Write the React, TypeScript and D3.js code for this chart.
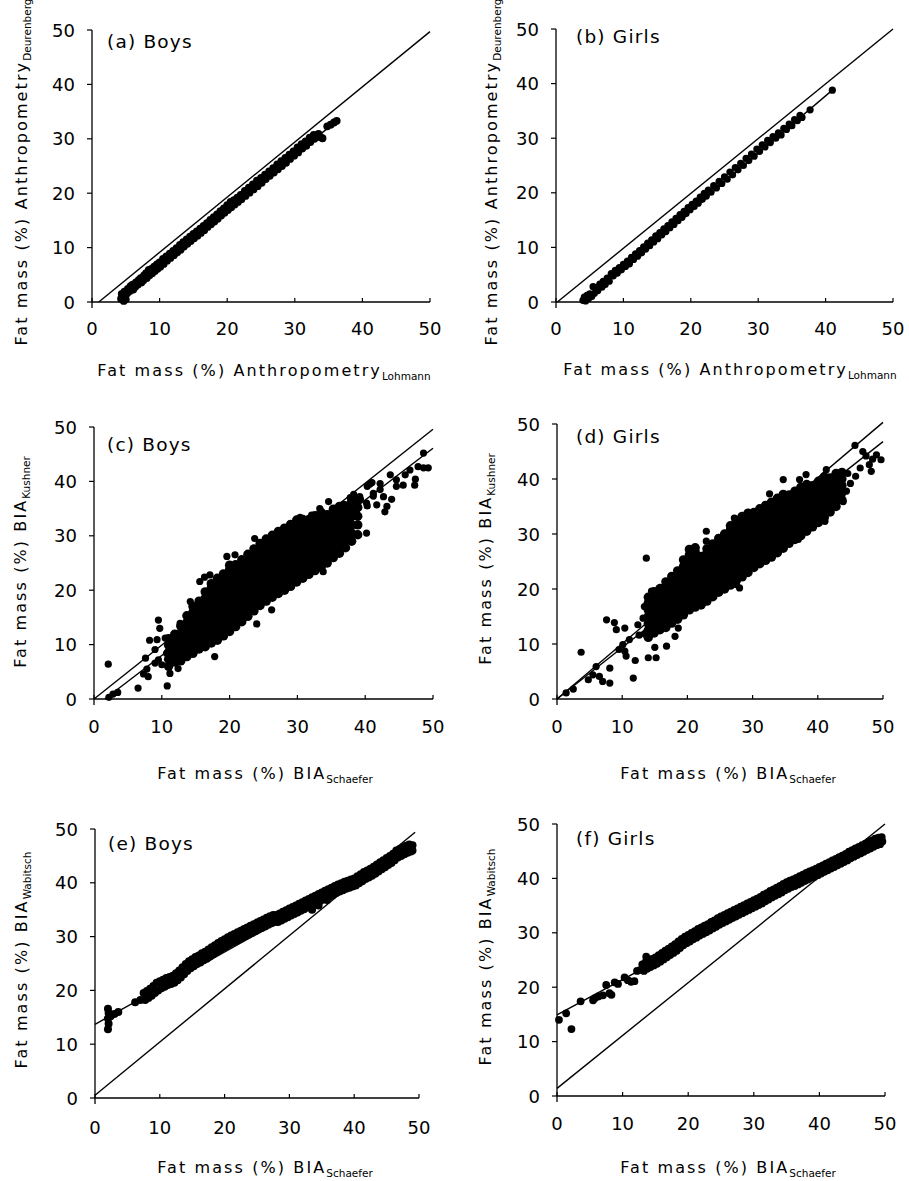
import React from "react";
import * as d3 from "d3";

type Pt = [number, number];
type Col = [number, number[]];

const TICKS = [0, 10, 20, 30, 40, 50];
const TICK_LABELS = ["0", "10", "20", "30", "40", "50"];
const PANEL_LABELS = ["(a) Boys", "(b) Girls", "(c) Boys", "(d) Girls", "(e) Boys", "(f) Girls"];
const X_TITLES: [string, string][] = [
  ["Fat mass (%) Anthropometry", "Lohmann"],
  ["Fat mass (%) Anthropometry", "Lohmann"],
  ["Fat mass (%) BIA", "Schaefer"],
  ["Fat mass (%) BIA", "Schaefer"],
  ["Fat mass (%) BIA", "Schaefer"],
  ["Fat mass (%) BIA", "Schaefer"],
];
const Y_TITLES: [string, string][] = [
  ["Fat mass (%) Anthropometry", "Deurenberg"],
  ["Fat mass (%) Anthropometry", "Deurenberg"],
  ["Fat mass (%) BIA", "Kushner"],
  ["Fat mass (%) BIA", "Kushner"],
  ["Fat mass (%) BIA", "Wabitsch"],
  ["Fat mass (%) BIA", "Wabitsch"],
];

// (a) Boys: Lohmann vs Deurenberg
const boysAnthro: Pt[] = [
  [4.3,0.6],[4.4,1.5],[4.6,0.9],[4.7,0.2],[4.8,1.9],[5.0,0.5],[5.2,1.6],[5.3,2.4],[5.6,2.0],[5.7,2.9],[6.0,3.2],[6.1,2.3],[6.4,2.8],[6.5,3.6],[6.8,3.2],[6.9,4.0],[7.2,4.4],[7.3,3.6],[7.6,4.0],[7.7,4.9],[8.0,5.3],[8.1,4.4],[8.4,5.9],[8.5,4.9],[8.8,6.1],[8.9,5.3],[9.2,6.5],[9.3,5.7],[9.6,6.9],[9.7,6.1],[10.0,7.3],[10.1,6.5],[10.5,7.9],[10.6,7.0],[11.0,8.4],[11.1,7.6],[11.5,8.9],[11.6,8.1],[12.0,9.4],[12.1,8.6],[12.5,9.9],[12.6,9.1],[13.0,10.5],[13.1,9.6],[13.5,11.0],[13.6,10.2],[14.0,11.5],[14.1,10.7],[14.5,12.0],[14.6,11.2],[15.0,12.5],[15.1,11.7],[15.5,13.0],[15.6,12.2],[16.0,13.5],[16.1,12.7],[16.5,14.0],[16.6,13.2],[17.0,14.5],[17.1,13.8],[17.5,15.1],[17.6,14.3],[18.0,15.6],[18.1,14.8],[18.5,16.1],[18.6,15.3],[19.0,16.7],[19.1,15.9],[19.5,17.2],[19.6,16.4],[20.0,17.8],[20.1,16.9],[20.5,18.4],[20.6,17.4],[21.0,18.7],[21.1,17.9],[21.5,19.2],[21.6,18.4],[22.0,19.7],[22.1,18.9],[22.6,20.4],[22.7,19.5],[23.2,21.0],[23.3,20.1],[23.8,21.6],[23.9,20.7],[24.4,22.3],[24.5,21.3],[25.0,22.8],[25.1,21.9],[25.6,23.4],[25.7,22.6],[26.2,24.0],[26.3,23.2],[26.8,24.6],[26.9,23.8],[27.4,25.3],[27.5,24.4],[28.0,25.9],[28.1,25.0],[28.6,26.5],[28.7,25.6],[29.2,27.1],[29.3,26.3],[29.8,27.7],[29.9,26.9],[30.4,28.4],[30.5,27.5],[31.0,29.0],[31.1,28.2],[31.6,29.5],[31.7,28.7],[32.2,30.2],[32.3,29.4],[32.8,30.7],[32.9,30.0],[33.5,30.9],[33.8,30.3],[34.1,30.1],[34.8,32.3],[35.3,32.6],[35.8,33.0],[36.2,33.3],
];

// (b) Girls: Lohmann vs Deurenberg
const girlsAnthro: Pt[] = [
  [4.0,0.3],[4.2,0.9],[4.4,0.2],[4.6,1.2],[4.8,0.6],[5.0,1.5],[5.3,1.0],[5.5,2.8],[5.7,1.6],[6.0,2.7],[6.2,2.1],[6.5,3.3],[6.8,2.7],[7.0,3.8],[7.3,3.2],[7.6,4.4],[7.9,3.8],[8.2,5.2],[8.5,4.8],[8.8,5.8],[9.1,5.3],[9.4,6.3],[9.7,5.9],[10.0,6.9],[10.3,6.5],[10.6,7.5],[10.9,7.0],[11.2,8.2],[11.5,7.8],[11.8,8.8],[12.1,8.4],[12.4,9.4],[12.7,9.0],[13.0,10.1],[13.3,9.7],[13.6,10.8],[13.9,10.3],[14.2,11.4],[14.5,11.0],[14.8,12.1],[15.1,11.6],[15.4,12.7],[15.7,12.3],[16.0,13.4],[16.3,12.9],[16.6,14.0],[16.9,13.6],[17.2,14.7],[17.5,14.2],[17.8,15.3],[18.1,14.9],[18.4,16.0],[18.7,15.5],[19.0,16.6],[19.3,16.2],[19.6,17.3],[19.9,16.9],[20.2,17.9],[20.5,17.5],[20.8,18.5],[21.1,18.1],[21.4,19.2],[21.7,18.8],[22.0,19.9],[22.3,19.4],[22.6,20.5],[23.0,20.1],[23.4,21.3],[23.8,20.9],[24.2,22.1],[24.6,21.7],[25.0,22.9],[25.4,22.5],[25.8,23.8],[26.2,23.3],[26.6,24.6],[27.0,24.2],[27.4,25.4],[27.8,25.0],[28.2,26.3],[28.6,25.9],[29.0,27.1],[29.4,26.7],[29.8,28.0],[30.2,27.6],[30.6,28.8],[31.0,28.4],[31.4,29.6],[31.8,29.2],[32.2,30.3],[32.6,30.0],[33.0,31.0],[33.4,30.6],[33.8,31.8],[34.2,31.6],[34.6,32.6],[35.0,32.3],[35.4,33.4],[35.8,33.2],[36.2,34.2],[36.5,33.8],[37.7,35.2],[41.0,38.8],
];

// (c) Boys: Schaefer vs Kushner (dense core by columns + scattered points)
const boysKushnerCore: Col[] = [
  [11.0,[6.0,7.3,8.6,9.9,11.1]],
  [11.9,[6.8,8.0,9.3,10.6,11.9]],
  [12.8,[7.0,8.3,9.5,10.8,12.1,13.4]],
  [13.7,[7.8,9.0,10.3,11.6,12.8,14.1,15.3]],
  [14.6,[8.4,9.7,11.0,12.2,13.5,14.8,16.0,17.0]],
  [15.5,[9.2,10.4,11.7,13.0,14.2,15.5,16.8,18.0]],
  [16.4,[9.6,10.9,12.2,13.4,14.7,16.0,17.2,18.5,19.7]],
  [17.3,[10.3,11.6,12.8,14.1,15.4,16.6,17.9,19.2,20.4,21.2]],
  [18.2,[10.8,12.1,13.3,14.6,15.9,17.1,18.4,19.7,20.9,22.2]],
  [19.1,[11.6,12.9,14.1,15.4,16.7,17.9,19.2,20.5,21.7,23.0]],
  [20.0,[12.4,13.7,14.9,16.2,17.5,18.7,20.0,21.3,22.5,23.8,24.6]],
  [20.9,[13.3,14.6,15.8,17.1,18.4,19.6,20.9,22.2,23.4,24.7]],
  [21.8,[14.2,15.5,16.7,18.0,19.3,20.5,21.8,23.1,24.3,25.6]],
  [22.7,[15.2,16.4,17.7,19.0,20.2,21.5,22.8,24.0,25.3,26.6]],
  [23.6,[16.2,17.5,18.7,20.0,21.3,22.5,23.8,25.1,26.3,27.6]],
  [24.5,[17.2,18.5,19.7,21.0,22.3,23.5,24.8,26.1,27.3,28.6]],
  [25.4,[18.0,19.3,20.5,21.8,23.1,24.3,25.6,26.9,28.1,29.4]],
  [26.3,[18.7,20.0,21.2,22.5,23.8,25.0,26.3,27.6,28.8,30.1]],
  [27.2,[19.4,20.7,21.9,23.2,24.5,25.7,27.0,28.3,29.5,30.8]],
  [28.1,[20.0,21.3,22.5,23.8,25.1,26.3,27.6,28.9,30.1,31.4]],
  [29.0,[20.7,22.0,23.2,24.5,25.8,27.0,28.3,29.6,30.8,32.1]],
  [29.9,[21.5,22.8,24.0,25.3,26.6,27.8,29.1,30.4,31.6,32.9]],
  [30.8,[22.2,23.5,24.7,26.0,27.3,28.5,29.8,31.1,32.3,33.0]],
  [31.7,[22.9,24.2,25.4,26.7,28.0,29.2,30.5,31.8,33.0]],
  [32.6,[23.6,24.9,26.1,27.4,28.7,29.9,31.2,32.5,33.7]],
  [33.5,[24.2,25.5,26.7,28.0,29.3,30.5,31.8,33.1,34.3]],
  [34.4,[25.0,26.3,27.5,28.8,30.1,31.3,32.6,33.9]],
  [35.3,[26.0,27.3,28.5,29.8,31.1,32.3,33.6,34.9]],
  [36.2,[26.8,28.1,29.3,30.6,31.9,33.1,34.4,35.4]],
  [37.1,[27.8,29.1,30.3,31.6,32.9,34.1,35.5]],
  [38.0,[29.0,30.5,32.0,33.5,35.0,36.3]],
  [38.9,[30.2,32.0,33.6,35.2,36.6]],
];
const boysKushnerScatter: Pt[] = [
  [2.2,0.3],[2.8,0.9],[3.5,1.2],[2.1,6.4],[6.5,2.0],[10.8,2.4],[7.3,4.6],[7.8,5.5],[8.0,4.1],[9.0,6.6],[9.5,7.2],[10.0,6.3],[10.7,8.4],[7.6,7.5],[9.0,9.1],[9.3,10.9],[8.2,10.8],[9.5,14.5],[9.7,13.0],[10.5,11.2],[11.5,7.2],[12.4,5.6],[11.2,4.7],[12.7,13.9],[14.2,17.9],[15.6,21.6],[16.3,22.4],[17.1,22.8],[17.8,7.8],[19.6,26.2],[20.8,26.5],[23.7,29.5],[24.0,13.8],[25.5,17.9],[26.2,16.4],[30.4,33.4],[32.1,33.8],[33.3,35.0],[34.6,36.3],[33.8,23.4],[36.0,27.4],[36.8,29.5],[37.3,31.7],[37.8,32.9],[37.5,29.5],[38.7,34.7],[37.8,37.0],[39.2,37.2],[40.2,36.0],[40.2,30.5],[40.7,39.5],[41.2,37.8],[41.7,35.7],[42.2,39.6],[42.7,37.2],[42.9,34.4],[43.2,35.4],[43.7,41.2],[43.9,36.7],[44.6,40.3],[44.6,39.1],[45.6,39.3],[45.9,41.2],[46.6,42.1],[47.3,39.3],[47.4,40.4],[47.8,42.7],[48.6,42.5],[49.3,42.5],[48.6,45.2],[40.3,39.1],[41.0,39.8],[38.3,37.6],[36.8,35.8],[35.8,34.2],[39.3,36.7],[40.3,35.5],[41.2,37.3],[42.2,38.5],
];

// (d) Girls: Schaefer vs Kushner
const girlsKushnerCore: Col[] = [
  [14.0,[11.2,12.5,13.7,15.0,16.2,17.5,18.5]],
  [14.9,[12.0,13.2,14.5,15.7,17.0,18.2,19.5]],
  [15.8,[12.6,13.8,15.1,16.3,17.6,18.8,20.1]],
  [16.7,[13.0,14.3,15.5,16.8,18.0,19.3,20.5,21.3]],
  [17.6,[13.8,15.0,16.3,17.5,18.8,20.0,21.3,22.3]],
  [18.5,[14.5,15.8,17.0,18.3,19.5,20.8,22.0,23.3]],
  [19.4,[15.3,16.6,17.8,19.1,20.3,21.6,22.8,24.1,25.3]],
  [20.3,[16.2,17.4,18.7,19.9,21.2,22.4,23.7,24.9,26.2,27.2]],
  [21.2,[16.7,18.0,19.2,20.5,21.7,23.0,24.2,25.5,26.7,27.5]],
  [22.1,[17.1,18.4,19.6,20.9,22.1,23.4,24.6,25.9]],
  [23.0,[17.8,19.1,20.3,21.6,22.8,24.1,25.3,26.6,27.3]],
  [23.9,[18.6,19.9,21.1,22.4,23.6,24.9,26.1,27.4,28.2]],
  [24.8,[19.4,20.7,21.9,23.2,24.4,25.7,26.9,28.2,29.2]],
  [25.7,[20.0,21.3,22.5,23.8,25.0,26.3,27.5,28.8,30.0]],
  [26.6,[20.7,22.0,23.2,24.5,25.7,27.0,28.2,29.5,30.7,31.5]],
  [27.5,[21.5,22.7,24.0,25.2,26.5,27.7,29.0,30.2,31.5,32.5]],
  [28.4,[22.2,23.5,24.7,26.0,27.2,28.5,29.7,31.0,32.2,33.2]],
  [29.3,[23.0,24.3,25.5,26.8,28.0,29.3,30.5,31.8,33.0,33.8]],
  [30.2,[23.9,25.1,26.4,27.6,28.9,30.1,31.4,32.6,33.9]],
  [31.1,[24.6,25.9,27.1,28.4,29.6,30.9,32.1,33.4,34.6]],
  [32.0,[25.2,26.5,27.7,29.0,30.2,31.5,32.7,34.0,35.2]],
  [32.9,[25.8,27.1,28.3,29.6,30.8,32.1,33.3,34.6,35.8]],
  [33.8,[26.6,27.9,29.1,30.4,31.6,32.9,34.1,35.4,36.5]],
  [34.7,[27.4,28.7,29.9,31.2,32.4,33.7,34.9,36.2,37.2]],
  [35.6,[28.3,29.6,30.8,32.1,33.3,34.6,35.8,37.1]],
  [36.5,[29.0,30.3,31.5,32.8,34.0,35.3,36.5,37.8]],
  [37.4,[29.7,31.0,32.2,33.5,34.7,36.0,37.2,38.5]],
  [38.3,[30.5,31.8,33.0,34.3,35.5,36.8,38.0,39.0]],
  [39.2,[31.3,32.6,33.8,35.1,36.3,37.6,38.8]],
  [40.1,[32.1,33.4,34.6,35.9,37.1,38.4,39.6]],
  [41.0,[33.0,34.3,35.5,36.8,38.0,39.3,40.4]],
  [41.9,[34.0,35.3,36.5,37.8,39.0,40.2]],
  [42.8,[35.0,36.3,37.5,38.8,40.0,41.0]],
  [43.7,[36.2,37.5,38.8,40.0,41.2]],
];
const girlsKushnerScatter: Pt[] = [
  [1.4,1.1],[3.7,8.5],[6.0,5.9],[5.5,4.4],[6.5,4.1],[7.0,3.2],[8.1,2.9],[8.1,5.6],[7.6,14.4],[8.8,13.9],[9.1,12.6],[10.4,12.9],[10.1,9.9],[10.4,8.7],[10.6,7.8],[11.7,3.8],[11.1,10.8],[12.0,7.0],[13.7,25.6],[14.0,7.5],[15.2,7.5],[15.0,9.4],[16.8,9.6],[13.4,16.8],[13.2,14.7],[14.5,19.6],[12.4,13.5],[12.6,11.6],[13.5,11.8],[18.1,11.4],[18.6,12.9],[22.9,30.5],[22.9,28.7],[27.5,20.8],[28.0,20.2],[27.2,32.9],[32.6,37.3],[34.7,39.9],[37.2,39.9],[38.2,40.8],[37.0,29.0],[41.3,41.7],[45.7,46.1],[46.9,45.0],[47.4,44.2],[48.2,41.4],[47.9,42.6],[49.7,43.5],[49.0,44.4],[48.4,43.6],[41.1,32.3],[43.9,35.9],[44.4,37.8],[45.0,39.2],[45.8,40.5],[46.5,42.0],[44.6,41.0],[43.2,40.8],[2.5,1.8],[4.8,3.5],[9.5,9.0],
];

// (e) Boys: Schaefer vs Wabitsch
const boysWabitsch: Pt[] = [
  [2.0,12.8],[2.1,13.8],[2.0,14.8],[2.1,15.8],[2.0,16.6],[2.4,15.2],[3.0,15.6],[3.6,16.0],[6.2,17.8],[7.0,18.2],
  [7.5,19.5],[7.75,18.2],[8.0,19.9],[8.25,18.6],[8.5,20.3],[8.75,19.0],[9.0,20.8],[9.25,19.5],[9.5,21.4],[9.75,20.0],[10.0,21.7],[10.25,20.4],[10.5,22.0],[10.75,20.7],[11.0,22.3],[11.25,21.0],[11.5,22.5],[11.75,21.2],[12.0,22.7],[12.25,21.4],[12.5,23.2],[12.75,21.9],[13.0,23.7],[13.25,22.4],[13.5,24.3],[13.75,23.0],[14.0,24.9],[14.25,23.6],[14.5,25.4],[14.75,24.1],[15.0,25.8],[15.25,24.5],[15.5,26.2],[15.75,24.9],[16.0,26.5],[16.25,25.2],[16.5,26.9],[16.75,25.6],[17.0,27.2],[17.25,25.9],[17.5,27.6],[17.75,26.3],[18.0,28.0],[18.25,26.7],[18.5,28.4],[18.75,27.1],[19.0,28.8],[19.25,27.5],[19.5,29.2],[19.75,27.9],[20.0,29.5],[20.25,28.2],[20.5,29.9],[20.75,28.6],[21.0,30.2],[21.25,28.9],[21.5,30.5],[21.75,29.2],[22.0,30.8],[22.25,29.5],[22.5,31.1],[22.75,29.8],[23.0,31.4],[23.25,30.1],[23.5,31.7],[23.75,30.4],[24.0,32.0],[24.25,30.7],[24.5,32.3],[24.75,31.0],[25.0,32.6],[25.25,31.3],[25.5,32.9],[25.75,31.6],[26.0,33.2],[26.25,31.9],[26.5,33.5],[26.75,32.2],[27.0,33.8],[27.25,32.5],[27.5,34.0],[27.75,32.7],[28.0,34.0],[28.25,32.7],[28.5,34.3],[28.75,33.0],[29.0,34.6],[29.25,33.3],[29.5,34.9],[29.75,33.6],[30.0,35.2],[30.25,33.9],[30.5,35.5],[30.75,34.2],[31.0,35.8],[31.25,34.5],[31.5,36.1],[31.75,34.8],[32.0,36.4],[32.25,35.1],[32.5,36.7],[32.75,35.4],[33.0,37.0],[33.25,35.7],[33.5,37.3],[33.75,36.0],[34.0,37.6],[34.25,36.3],[34.5,37.9],[34.75,36.6],[35.0,38.2],[35.25,36.9],[35.5,38.5],[35.75,37.2],[36.0,38.8],[36.25,37.5],[36.5,39.1],[36.75,37.8],[37.0,39.4],[37.25,38.1],[37.5,39.7],[37.75,38.4],[38.0,39.9],[38.25,38.6],[38.5,40.2],[38.75,38.9],[39.0,40.4],[39.25,39.1],[39.5,40.6],[39.75,39.3],[40.0,40.8],[40.25,39.5],[40.5,41.2],[40.75,39.9],[41.0,41.6],[41.25,40.3],[41.5,42.0],[41.75,40.7],[42.0,42.3],[42.25,41.0],[42.5,42.6],[42.75,41.3],[43.0,43.0],[43.25,41.7],[43.5,43.4],[43.75,42.1],[44.0,43.8],[44.25,42.5],[44.5,44.2],[44.75,42.9],[45.0,44.6],[45.25,43.3],[45.5,45.0],[45.75,43.7],[46.0,45.4],[46.25,44.2],[46.5,46.0],[46.75,44.7],[47.0,46.3],[47.25,45.0],[47.5,46.6],[47.75,45.3],[48.0,46.9],[48.25,45.6],[48.5,47.1],[48.75,45.8],[49.0,47.0],[49.0,46.0],
  [33.5,35.0],[34.5,35.8],[35.8,36.8],
];

// (f) Girls: Schaefer vs Wabitsch
const girlsWabitsch: Pt[] = [
  [0.3,14.0],[1.4,15.2],[2.2,12.3],[3.6,17.4],[5.5,17.6],[5.8,18.0],[6.3,18.3],[7.0,18.5],[7.5,20.4],[8.0,18.9],[8.3,18.6],[8.8,20.9],[9.3,20.6],[10.3,21.8],[10.8,21.3],[11.3,21.0],[11.8,21.1],[12.2,23.0],[12.7,23.2],[13.6,25.6],[13.2,23.4],
  [13.0,24.2],[13.25,23.0],[13.5,24.6],[13.75,23.4],[14.0,24.9],[14.25,23.7],[14.5,25.2],[14.75,24.0],[15.0,25.5],[15.25,24.3],[15.5,25.9],[15.75,24.7],[16.0,26.3],[16.25,25.1],[16.5,26.7],[16.75,25.5],[17.0,27.1],[17.25,25.9],[17.5,27.5],[17.75,26.3],[18.0,27.9],[18.25,26.7],[18.5,28.4],[18.75,27.2],[19.0,28.9],[19.25,27.7],[19.5,29.3],[19.75,28.1],[20.0,29.6],[20.25,28.4],[20.5,30.0],[20.75,28.8],[21.0,30.3],[21.25,29.1],[21.5,30.7],[21.75,29.5],[22.0,31.0],[22.25,29.8],[22.5,31.3],[22.75,30.1],[23.0,31.6],[23.25,30.4],[23.5,32.0],[23.75,30.8],[24.0,32.3],[24.25,31.1],[24.5,32.7],[24.75,31.5],[25.0,33.0],[25.25,31.8],[25.5,33.3],[25.75,32.1],[26.0,33.6],[26.25,32.4],[26.5,33.9],[26.75,32.7],[27.0,34.2],[27.25,33.0],[27.5,34.5],[27.75,33.3],[28.0,34.8],[28.25,33.6],[28.5,35.1],[28.75,33.9],[29.0,35.4],[29.25,34.2],[29.5,35.7],[29.75,34.5],[30.0,36.0],[30.25,34.8],[30.5,36.3],[30.75,35.1],[31.0,36.6],[31.25,35.4],[31.5,37.0],[31.75,35.8],[32.0,37.3],[32.25,36.1],[32.5,37.7],[32.75,36.5],[33.0,38.0],[33.25,36.8],[33.5,38.3],[33.75,37.1],[34.0,38.6],[34.25,37.4],[34.5,39.0],[34.75,37.8],[35.0,39.3],[35.25,38.1],[35.5,39.6],[35.75,38.4],[36.0,39.8],[36.25,38.6],[36.5,40.1],[36.75,38.9],[37.0,40.4],[37.25,39.2],[37.5,40.7],[37.75,39.5],[38.0,41.0],[38.25,39.8],[38.5,41.3],[38.75,40.1],[39.0,41.5],[39.25,40.3],[39.5,41.8],[39.75,40.6],[40.0,42.1],[40.25,40.9],[40.5,42.4],[40.75,41.2],[41.0,42.7],[41.25,41.5],[41.5,43.0],[41.75,41.8],[42.0,43.3],[42.25,42.1],[42.5,43.6],[42.75,42.4],[43.0,43.9],[43.25,42.7],[43.5,44.2],[43.75,43.0],[44.0,44.5],[44.25,43.3],[44.5,44.9],[44.75,43.7],[45.0,45.2],[45.25,44.0],[45.5,45.5],[45.75,44.3],[46.0,45.8],[46.25,44.6],[46.5,46.1],[46.75,44.9],[47.0,46.4],[47.25,45.2],[47.5,46.7],[47.75,45.5],[48.0,47.0],[48.25,45.8],[48.5,47.3],[48.75,46.1],[49.0,47.5],[49.25,46.3],[49.5,47.6],[49.6,46.8],
];

// identity / regression line endpoints
const IDENTITY_LINES: Pt[][] = [
  [[1, 0], [50, 49.7]],
  [[0.2, 0], [50, 50]],
  [[0, 0], [50, 49.6]],
  [[0, 0], [50, 50.3]],
  [[0, 0.5], [49.4, 49.4]],
  [[0, 1.4], [50, 50]],
];
const REGRESSION_LINES: Pt[][] = [
  [[4.3, 0.9], [36.2, 33.3]],
  [[4.0, 0.0], [41.0, 38.8]],
  [[1.6, 0.0], [50, 46.1]],
  [[0, 0], [50, 46.8]],
  [[0, 13.7], [49.4, 46.9]],
  [[0, 14.9], [50, 47.4]],
];

const flatten = (cols: Col[]): Pt[] => cols.flatMap(([x, ys]) => ys.map((y) => [x, y] as Pt));

// each panel: list of [points, marker radius]
const PANEL_SETS: [Pt[], number][][] = [
  [[boysAnthro, 3.9]],
  [[girlsAnthro, 3.6]],
  [[flatten(boysKushnerCore), 4.7], [boysKushnerScatter, 3.6]],
  [[flatten(girlsKushnerCore), 4.7], [girlsKushnerScatter, 3.6]],
  [[boysWabitsch, 4.0]],
  [[girlsWabitsch, 3.9]],
];

// layout (pixels)
const LAYOUT = [
  { x0: 92, x1: 430, yTop: 30, yBot: 302, lab: [107, 48], yt: [27, 172], xt: [264, 376], tk: 33 },
  { x0: 556, x1: 893, yTop: 29, yBot: 302, lab: [576, 43], yt: [497, 172], xt: [730, 375], tk: 33 },
  { x0: 94, x1: 433, yTop: 427, yBot: 699, lab: [107, 451], yt: [26, 562], xt: [265, 779], tk: 34 },
  { x0: 557, x1: 883, yTop: 424, yBot: 699, lab: [576, 443], yt: [491, 559], xt: [728, 779], tk: 34 },
  { x0: 95, x1: 419, yTop: 829, yBot: 1098, lab: [108, 850], yt: [27, 960], xt: [265, 1173], tk: 36 },
  { x0: 557, x1: 885, yTop: 824, yBot: 1096, lab: [576, 845], yt: [491, 957], xt: [728, 1173], tk: 34 },
];

const FONT = "'DejaVu Sans', Verdana, sans-serif";

function Panel({ i }: { i: number }) {
  const L = LAYOUT[i];
  const x = d3.scaleLinear().domain([0, 50]).range([L.x0, L.x1]);
  const y = d3.scaleLinear().domain([0, 50]).range([L.yBot, L.yTop]);
  const line = d3.line<Pt>().x((d) => x(d[0])).y((d) => y(d[1]));
  return (
    <g>
      <line x1={L.x0} x2={L.x0} y1={L.yTop} y2={L.yBot + 6} stroke="#000" strokeWidth={1.3} />
      <line x1={L.x0} x2={L.x1} y1={L.yBot} y2={L.yBot} stroke="#000" strokeWidth={1.3} />
      {TICKS.map((t, k) => (
        <g key={"y" + k}>
          <line x1={L.x0 - 5} x2={L.x0} y1={y(t)} y2={y(t)} stroke="#000" strokeWidth={1.2} />
          <text x={L.x0 - 17} y={y(t) + 6.5} textAnchor="end" fontSize={18} fontFamily={FONT} fill="#000">
            {TICK_LABELS[k]}
          </text>
        </g>
      ))}
      {TICKS.map((t, k) => (
        <g key={"x" + k}>
          <line x1={x(t)} x2={x(t)} y1={L.yBot - 4} y2={L.yBot} stroke="#000" strokeWidth={1.2} />
          <text x={x(t)} y={L.yBot + L.tk} textAnchor="middle" fontSize={18} fontFamily={FONT} fill="#000">
            {TICK_LABELS[k]}
          </text>
        </g>
      ))}
      {PANEL_SETS[i].map(([pts, r], s) => (
        <g key={"s" + s}>
          {pts.map((d, k) => (
            <circle key={k} cx={x(d[0])} cy={y(d[1])} r={r} fill="#000" />
          ))}
        </g>
      ))}
      <path d={line(IDENTITY_LINES[i]) || ""} stroke="#000" strokeWidth={1.4} fill="none" />
      <path d={line(REGRESSION_LINES[i]) || ""} stroke="#000" strokeWidth={1.4} fill="none" />
      <text x={L.lab[0]} y={L.lab[1]} fontSize={18.5} letterSpacing={1.2} fontFamily={FONT} fill="#000">
        {PANEL_LABELS[i]}
      </text>
      <text x={L.xt[0]} y={L.xt[1]} textAnchor="middle" fontFamily={FONT} fill="#000">
        <tspan fontSize={16} letterSpacing={2.1}>{X_TITLES[i][0]}</tspan>
        <tspan fontSize={10.5} dy={4}>{X_TITLES[i][1]}</tspan>
      </text>
      <text
        transform={`translate(${L.yt[0]},${L.yt[1]}) rotate(-90)`}
        textAnchor="middle"
        fontFamily={FONT}
        fill="#000"
      >
        <tspan fontSize={16} letterSpacing={2.1}>{Y_TITLES[i][0]}</tspan>
        <tspan fontSize={10.5} dy={4}>{Y_TITLES[i][1]}</tspan>
      </text>
    </g>
  );
}

export default function App() {
  return (
    <svg
      width={909}
      height={1181}
      viewBox="0 0 909 1181"
      style={{ position: "absolute", left: 0, top: 0, background: "#fff", display: "block" }}
    >
      <rect x={0} y={0} width={909} height={1181} fill="#fff" />
      {PANEL_LABELS.map((_, i) => (
        <Panel key={i} i={i} />
      ))}
    </svg>
  );
}
